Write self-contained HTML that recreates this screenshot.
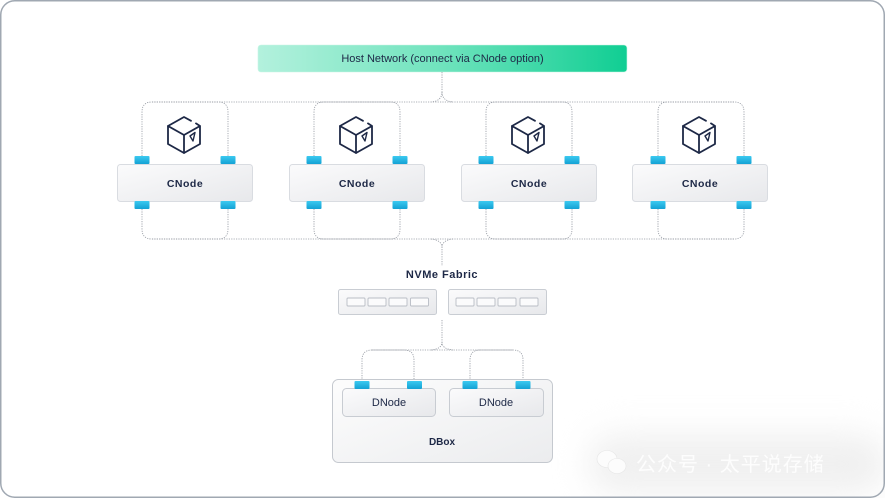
<!DOCTYPE html>
<html>
<head>
<meta charset="utf-8">
<style>
html,body{margin:0;padding:0;background:#fff;}
body{width:885px;height:498px;overflow:hidden;position:relative;font-family:"Liberation Sans","Noto Sans CJK SC",sans-serif;}
#wm{position:absolute;left:588px;top:434px;width:300px;height:60px;background:#f0f0f0;border-radius:30px;filter:blur(16px);}
#wmtext{position:absolute;left:636px;top:448px;font-family:"Liberation Sans","Noto Sans CJK SC",sans-serif;font-size:20px;color:#fdfdfd;white-space:nowrap;letter-spacing:1px;}
svg{position:absolute;left:0;top:0;}
</style>
</head>
<body>
<div id="wm"></div>
<svg width="885" height="498" viewBox="0 0 885 498" xmlns="http://www.w3.org/2000/svg">
<defs>
<linearGradient id="hostg" x1="0" y1="0" x2="1" y2="0">
<stop offset="0" stop-color="#b3f1dd"/>
<stop offset="0.5" stop-color="#6fe3bd"/>
<stop offset="1" stop-color="#10ce93"/>
</linearGradient>
<linearGradient id="boxg" x1="0" y1="0" x2="1" y2="1">
<stop offset="0" stop-color="#fbfbfc"/>
<stop offset="1" stop-color="#e7e8eb"/>
</linearGradient>
<linearGradient id="dboxg" x1="0" y1="0" x2="1" y2="1">
<stop offset="0" stop-color="#fdfdfd"/>
<stop offset="1" stop-color="#ebecee"/>
</linearGradient>
<linearGradient id="portg" x1="0" y1="0" x2="0" y2="1">
<stop offset="0" stop-color="#3ccaf0"/>
<stop offset="1" stop-color="#14a2d4"/>
</linearGradient>
<g id="cube" fill="none" stroke="#1d2846" stroke-width="1.8" stroke-linejoin="round" stroke-linecap="round">
<path d="M-16,-9 L0,-18 L7,-14.2"/>
<path d="M12,-11.6 L16,-9 L16,9 L0,18 L-16,9 L-16,-9 L0,0 L16,-9"/>
<path d="M0,0 L0,18"/>
<path d="M6,1 L11,-2.5 L9,6 Z" stroke-width="1.4"/>
</g>
<rect id="port" x="-7.5" y="0" width="15" height="8" rx="1" fill="url(#portg)"/>
</defs>

<!-- outer frame -->
<rect x="0.75" y="0.75" width="883.5" height="496.5" rx="14" fill="none" stroke="#a0a8b2" stroke-width="1.5"/>

<!-- host network bar -->
<rect x="258" y="45" width="369" height="27" rx="3" fill="url(#hostg)" stroke="#c9f5e6" stroke-width="0.6"/>
<text x="442.5" y="62" text-anchor="middle" font-family="Liberation Sans, sans-serif" font-size="11" fill="#1d2846">Host Network (connect via CNode option)</text>

<!-- dotted connectors -->
<g fill="none" stroke="#9297a0" stroke-width="0.8" stroke-dasharray="1.2 1.2">
<!-- top -->
<path d="M442,72 V92 Q442,101 431,102"/>
<path d="M442,92 Q442,101 453,102"/>
<path d="M152,102 H734"/>
<path d="M142,156 V112 Q142,102 152,102 H218 Q228,102 228,112 V156"/>
<path d="M314,156 V112 Q314,102 324,102 H390 Q400,102 400,112 V156"/>
<path d="M486,156 V112 Q486,102 496,102 H562 Q572,102 572,112 V156"/>
<path d="M658,156 V112 Q658,102 668,102 H734 Q744,102 744,112 V156"/>
<!-- bottom -->
<path d="M152,239 H734"/>
<path d="M142,209 V229 Q142,239 152,239 H218 Q228,239 228,229 V209"/>
<path d="M314,209 V229 Q314,239 324,239 H390 Q400,239 400,229 V209"/>
<path d="M486,209 V229 Q486,239 496,239 H562 Q572,239 572,229 V209"/>
<path d="M658,209 V229 Q658,239 668,239 H734 Q744,239 744,229 V209"/>
<path d="M431,239 Q442,240 442,248 V266"/>
<path d="M453,239 Q442,240 442,248"/>
<!-- dbox -->
<path d="M442,320 V342 Q442,349 431,350"/>
<path d="M442,342 Q442,349 453,350"/>
<path d="M372,350 H513"/>
<path d="M362,381 V360 Q362,350 372,350 H404 Q414,350 414,360 V381"/>
<path d="M470,381 V360 Q470,350 480,350 H513 Q523,350 523,360 V381"/>
</g>

<!-- CNodes -->
<g>
<rect x="117.5" y="164.5" width="135" height="37" rx="3" fill="url(#boxg)" stroke="#d9dce1"/>
<rect x="289.5" y="164.5" width="135" height="37" rx="3" fill="url(#boxg)" stroke="#d9dce1"/>
<rect x="461.5" y="164.5" width="135" height="37" rx="3" fill="url(#boxg)" stroke="#d9dce1"/>
<rect x="632.5" y="164.5" width="135" height="37" rx="3" fill="url(#boxg)" stroke="#d9dce1"/>
</g>
<g font-family="Liberation Sans, sans-serif" font-size="10.5" font-weight="bold" fill="#1d2846" text-anchor="middle" letter-spacing="0.5">
<text x="185" y="187">CNode</text>
<text x="357" y="187">CNode</text>
<text x="529" y="187">CNode</text>
<text x="700" y="187">CNode</text>
</g>
<!-- ports -->
<g>
<use href="#port" x="142" y="156"/><use href="#port" x="228" y="156"/>
<use href="#port" x="142" y="201"/><use href="#port" x="228" y="201"/>
<use href="#port" x="314" y="156"/><use href="#port" x="400" y="156"/>
<use href="#port" x="314" y="201"/><use href="#port" x="400" y="201"/>
<use href="#port" x="486" y="156"/><use href="#port" x="572" y="156"/>
<use href="#port" x="486" y="201"/><use href="#port" x="572" y="201"/>
<use href="#port" x="658" y="156"/><use href="#port" x="744" y="156"/>
<use href="#port" x="658" y="201"/><use href="#port" x="744" y="201"/>
</g>
<!-- cubes -->
<use href="#cube" x="184" y="135"/>
<use href="#cube" x="356" y="135"/>
<use href="#cube" x="528" y="135"/>
<use href="#cube" x="699" y="135"/>

<!-- NVMe Fabric -->
<text x="442" y="278" text-anchor="middle" font-family="Liberation Sans, sans-serif" font-size="11" font-weight="bold" fill="#1d2846" letter-spacing="0.5">NVMe Fabric</text>
<rect x="338.5" y="289.5" width="98" height="25" rx="2" fill="url(#boxg)" stroke="#c9cdd3"/>
<rect x="448.5" y="289.5" width="98" height="25" rx="2" fill="url(#boxg)" stroke="#c9cdd3"/>
<g fill="#fbfbfc" stroke="#b9bdc5" stroke-width="0.9">
<rect x="347" y="298" width="18" height="8" rx="1"/>
<rect x="368" y="298" width="18" height="8" rx="1"/>
<rect x="389" y="298" width="18" height="8" rx="1"/>
<rect x="410.5" y="298" width="18" height="8" rx="1"/>
<rect x="456" y="298" width="18" height="8" rx="1"/>
<rect x="477" y="298" width="18" height="8" rx="1"/>
<rect x="498" y="298" width="18" height="8" rx="1"/>
<rect x="520" y="298" width="18" height="8" rx="1"/>
</g>

<!-- DBox -->
<rect x="332.5" y="379.5" width="220" height="83" rx="6" fill="url(#dboxg)" stroke="#c5c9cf"/>
<rect x="342.5" y="388.5" width="93" height="28" rx="4" fill="url(#boxg)" stroke="#c8ccd2"/>
<rect x="449.5" y="388.5" width="94" height="28" rx="4" fill="url(#boxg)" stroke="#c8ccd2"/>
<use href="#port" x="362" y="381"/>
<use href="#port" x="414.5" y="381"/>
<use href="#port" x="470" y="381"/>
<use href="#port" x="523" y="381"/>
<g font-family="Liberation Sans, sans-serif" font-size="11" fill="#1d2846" text-anchor="middle">
<text x="389" y="406">DNode</text>
<text x="496" y="406">DNode</text>
</g>
<text x="442" y="445" text-anchor="middle" font-family="Liberation Sans, sans-serif" font-size="10" font-weight="bold" fill="#1d2846">DBox</text>

<!-- watermark icon -->
<g fill="#fcfcfc" stroke="#e6e6e6" stroke-width="0.6">
<ellipse cx="607" cy="459" rx="10" ry="8.5"/>
<ellipse cx="617" cy="466" rx="9" ry="7.5"/>
</g>
</svg>
<div id="wmtext">公众号 · 太平说存储</div>
</body>
</html>
